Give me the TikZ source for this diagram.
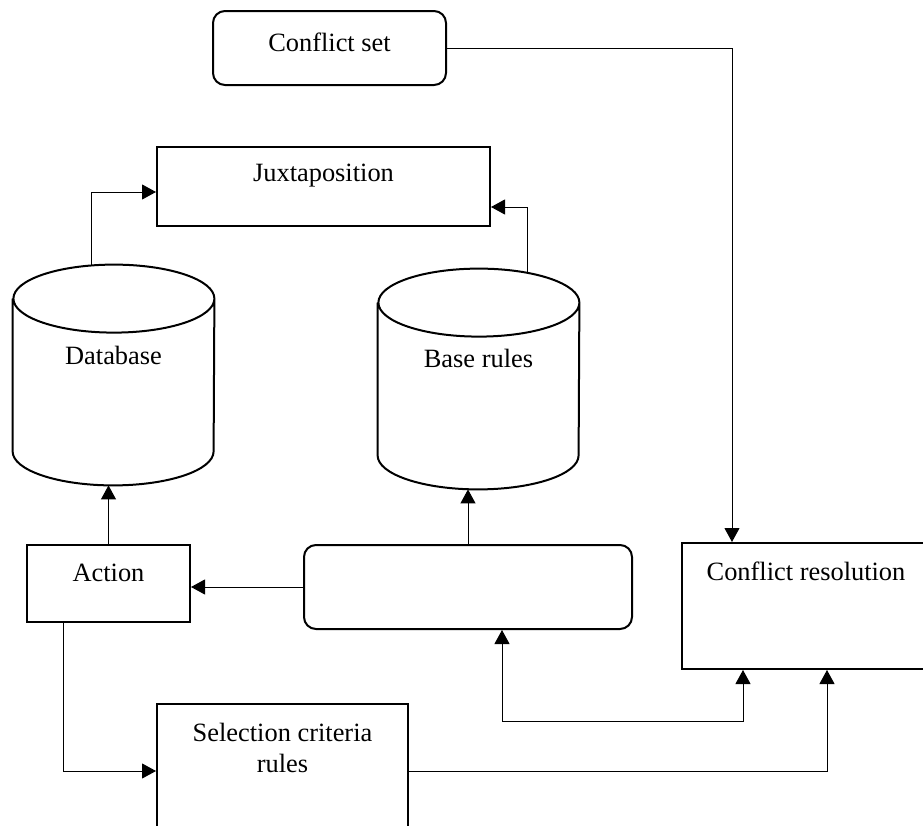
\documentclass[tikz,border=0pt]{standalone}
\usepackage{fontspec}
\setmainfont{Liberation Serif}
\usetikzlibrary{arrows.meta}
\begin{document}
\begin{tikzpicture}[x=0.5pt,y=-0.5pt,
  font=\fontsize{13.2}{15.5}\selectfont,
  >={Triangle[length=7pt,width=7.5pt]},
  box/.style={draw, line width=1pt, rectangle, inner sep=0pt},
  rbox/.style={box, rounded corners=6pt},
  dbase/.style={rectangle, minimum width=100.5pt, minimum height=110pt, inner sep=0pt},
  link/.style={line width=0.5pt, ->}]
\useasboundingbox (0,0) rectangle (923,826);
% boxes
\node[rbox, minimum width=116.5pt, minimum height=37pt, label={[yshift=2.75pt]center:Conflict set}] (cset) at (329.5,48) {};
\node[box, minimum width=166.5pt, minimum height=39.5pt, label={[yshift=5.25pt]center:Juxtaposition}] (jux) at (323.5,186.5) {};
\node[dbase, label={[yshift=10pt]center:Database}] (db) at (113.5,375) {};
\node[dbase, label={[yshift=10.5pt]center:Base rules}] (br) at (478.5,379) {};
\node[box, minimum width=81.5pt, minimum height=38.5pt, label={[yshift=5.25pt]center:Action}] (act) at (108.5,583.5) {};
\node[rbox, minimum width=164pt, minimum height=42pt] (emp) at (468,587) {};
\node[box, minimum width=124pt, minimum height=63pt, label={[yshift=17.5pt]center:Conflict resolution}] (cres) at (806,606) {};
\node[box, minimum width=125.5pt, minimum height=88pt, label={[align=center, yshift=22.25pt]center:Selection criteria\\rules}] (sel) at (282.5,792) {};
% cylinders
\foreach \n in {db,br}
  \draw[line width=1pt] ([yshift=-17pt]\n.north west) -- ([yshift=17pt]\n.south west)
    arc[start angle=180, end angle=360, x radius=50.25pt, y radius=17pt]
    -- ([yshift=-17pt]\n.north east)
    arc[start angle=0, end angle=360, x radius=50.25pt, y radius=17pt];
% links
\draw[link] (cset.east) -| ([xshift=25.5pt]cres.north west);
\draw[link] ([xshift=-11.25pt]db.north) |- ([yshift=-2.75pt]jux.west);
\draw[link] ([xshift=24.25pt,yshift=-1.5pt]br.north) |- ([yshift=-10.25pt]jux.east);
\draw[link] (act.north) -- (act.north |- db.south);
\draw[link] (emp.north) -- (emp.north |- br.south);
\draw[link] (emp.west) -- (emp.west -| act.east);
\draw[link] ([xshift=-22.75pt]act.south) |- ([yshift=-34pt]sel.north west);
\draw[link] ([yshift=-34pt]sel.north east) -| ([xshift=73pt]cres.south west);
\draw[link, <->] ([xshift=17pt]emp.south) -- ++(0,91) -| ([xshift=31pt]cres.south west);
\end{tikzpicture}
\end{document}
